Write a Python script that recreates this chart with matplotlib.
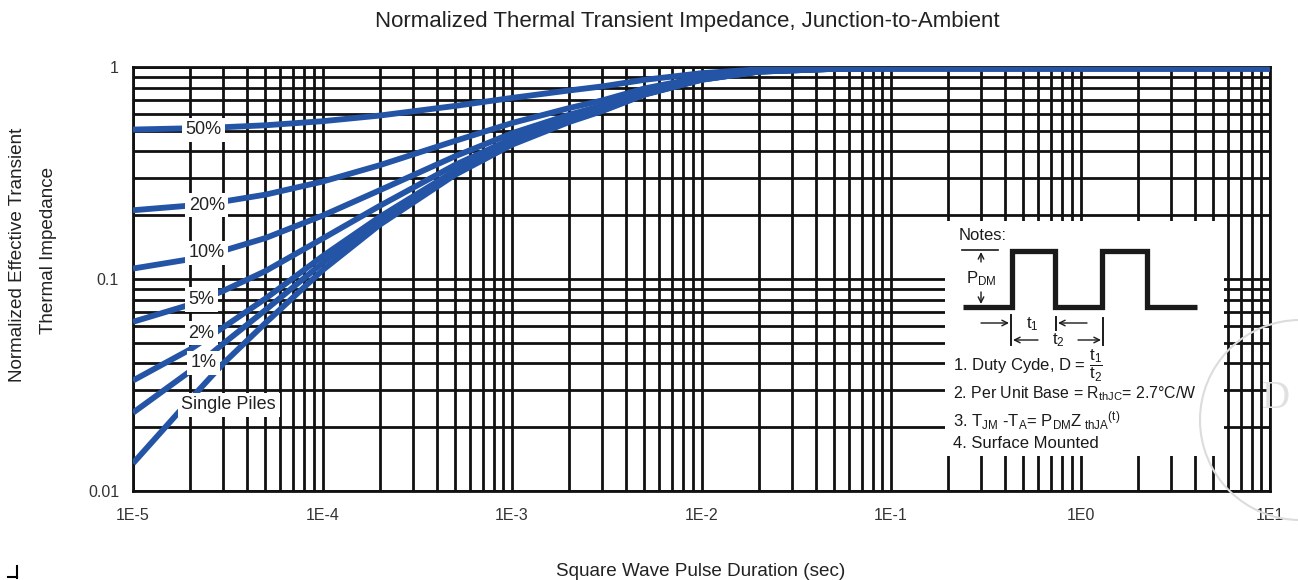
import numpy as np
import matplotlib
matplotlib.use('Agg')
import matplotlib.pyplot as plt
from matplotlib.ticker import LogLocator, NullFormatter, FixedLocator, FixedFormatter
from matplotlib.patches import Ellipse

plt.rcParams['font.family'] = ['Liberation Sans', 'DejaVu Sans']
plt.rcParams['mathtext.fontset'] = 'custom'
plt.rcParams['mathtext.rm'] = 'Liberation Sans'
plt.rcParams['mathtext.it'] = 'Liberation Sans:italic'

# pulse duration (s)
t = [1e-5, 2e-5, 3e-5, 5e-5, 1e-4, 2e-4, 5e-4, 1e-3, 2e-3, 3e-3,
     5e-3, 1e-2, 2e-2, 5e-2, 1e-1, 1.0, 10.0]

# normalized transient impedance for each duty cycle
z_single = [0.0135, 0.027, 0.040, 0.062, 0.11, 0.18, 0.31, 0.43, 0.55, 0.62,
            0.74, 0.87, 0.95, 0.98, 0.985, 0.985, 0.985]
z_01 = [0.0234, 0.0367, 0.0496, 0.0714, 0.119, 0.188, 0.317, 0.436, 0.555, 0.624,
        0.743, 0.871, 0.951, 0.98, 0.985, 0.985, 0.985]
z_02 = [0.0332, 0.0465, 0.0592, 0.0808, 0.128, 0.196, 0.324, 0.441, 0.559, 0.628,
        0.745, 0.873, 0.951, 0.98, 0.985, 0.985, 0.985]
z_05 = [0.0628, 0.0757, 0.088, 0.109, 0.155, 0.221, 0.345, 0.459, 0.573, 0.639,
        0.753, 0.877, 0.953, 0.981, 0.985, 0.985, 0.985]
z_10 = [0.112, 0.124, 0.136, 0.156, 0.199, 0.262, 0.379, 0.487, 0.595, 0.658,
        0.766, 0.883, 0.955, 0.982, 0.985, 0.985, 0.985]
z_20 = [0.211, 0.222, 0.232, 0.250, 0.288, 0.344, 0.448, 0.544, 0.64, 0.696,
        0.792, 0.896, 0.96, 0.984, 0.985, 0.985, 0.985]
z_50 = [0.507, 0.514, 0.52, 0.531, 0.555, 0.59, 0.655, 0.715, 0.775, 0.81,
        0.87, 0.935, 0.975, 0.985, 0.985, 0.985, 0.985]

curves = [z_50, z_20, z_10, z_05, z_02, z_01, z_single]
curve_labels = ['50%', '20%', '10%', '5%', '2%', '1%', 'Single Piles']
# where each curve name sits
label_pos = [(2.35e-5, 0.505), (2.45e-5, 0.223), (2.45e-5, 0.133), (2.3e-5, 0.080),
             (2.3e-5, 0.0555), (2.35e-5, 0.0402), (3.2e-5, 0.0255)]

xticks = [1e-5, 1e-4, 1e-3, 1e-2, 1e-1, 1, 10]
xtick_labels = ['1E-5', '1E-4', '1E-3', '1E-2', '1E-1', '1E0', '1E1']
yticks = [0.01, 0.1, 1]
ytick_labels = ['0.01', '0.1', '1']

blue = '#2354a6'
ink = '#1a1a1a'

W, H = 1298, 580
fig = plt.figure(figsize=(W / 100, H / 100), dpi=100)
L, R, T, B = 133, 1270, 67, 491
ax = fig.add_axes([L / W, 1 - B / H, (R - L) / W, (B - T) / H])
ax.set_xscale('log')
ax.set_yscale('log')
ax.set_xlim(1e-5, 10)
ax.set_ylim(0.01, 1)

ax.xaxis.set_minor_locator(LogLocator(base=10, subs=np.arange(2, 10)))
ax.yaxis.set_minor_locator(LogLocator(base=10, subs=np.arange(2, 10)))
ax.xaxis.set_minor_formatter(NullFormatter())
ax.yaxis.set_minor_formatter(NullFormatter())
ax.xaxis.set_major_locator(FixedLocator(xticks))
ax.xaxis.set_major_formatter(FixedFormatter(xtick_labels))
ax.yaxis.set_major_locator(FixedLocator(yticks))
ax.yaxis.set_major_formatter(FixedFormatter(ytick_labels))
ax.tick_params(which='both', length=0, labelsize=11.5, colors='#333333', pad=10)
ax.tick_params(axis='x', pad=12)
ax.grid(which='both', color='#111111', lw=2.0)
ax.set_axisbelow(True)
for s in ax.spines.values():
    s.set_linewidth(2)
    s.set_color('#111111')

for z in curves:
    ax.plot(t, z, color=blue, lw=4.2, solid_capstyle='butt', zorder=3)

for (lx, ly), txt in zip(label_pos, curve_labels):
    ax.text(lx, ly, txt, ha='center', va='center', fontsize=13, color='#222222', zorder=5,
            bbox=dict(boxstyle='square,pad=0.2', fc='white', ec='none'))

fig.text(687 / W, 1 - 22 / H, 'Normalized Thermal Transient Impedance, Junction-to-Ambient',
         ha='center', va='center', fontsize=16, color='#222222')
fig.text(701 / W, 1 - 572 / H, 'Square Wave Pulse Duration (sec)',
         ha='center', va='center', fontsize=13.6, color='#222222')
fig.text(18 / W, 1 - 255 / H, 'Normalized Effective Transient', rotation=90,
         ha='center', va='center', fontsize=13.6, color='#222222')
fig.text(49 / W, 1 - 250 / H, 'Thermal Impedance', rotation=90,
         ha='center', va='center', fontsize=13.6, color='#222222')

# notes panel, laid out in pixel units
nl, nr, nt, nb = 945, 1224, 221, 456
nx = fig.add_axes([nl / W, 1 - nb / H, (nr - nl) / W, (nb - nt) / H])
nx.set_xlim(nl, nr)
nx.set_ylim(nb, nt)
nx.set_xticks([])
nx.set_yticks([])
for s in nx.spines.values():
    s.set_visible(False)
nx.set_facecolor('white')

fs = 12
nx.text(959, 236, 'Notes:', fontsize=fs, va='center', ha='left', color=ink)
# pulse train
px = [963, 1012, 1012, 1055, 1055, 1102, 1102, 1147, 1147, 1197]
py = [307, 307, 251, 251, 307, 307, 251, 251, 307, 307]
nx.plot(px, py, color=ink, lw=3.8, solid_joinstyle='miter', solid_capstyle='butt')
nx.plot([962, 998], [250, 250], color=ink, lw=1.2)
nx.annotate('', xy=(981, 252), xytext=(981, 262),
            arrowprops=dict(arrowstyle='->', lw=1, color=ink, shrinkA=0, shrinkB=0))
nx.annotate('', xy=(981, 304), xytext=(981, 292),
            arrowprops=dict(arrowstyle='->', lw=1, color=ink, shrinkA=0, shrinkB=0))
nx.text(966, 279, r'P$_{\mathrm{DM}}$', fontsize=fs, va='center', ha='left', color=ink)

# t1 / t2 markers
for bx, y0, y1 in [(1011, 315, 345), (1056, 317, 330), (1103, 318, 345)]:
    nx.plot([bx, bx], [y0, y1], color=ink, lw=1.4)
arrow = dict(arrowstyle='->', lw=1, color=ink, shrinkA=0, shrinkB=0)
nx.annotate('', xy=(1009, 323), xytext=(981, 323), arrowprops=arrow)
nx.annotate('', xy=(1058, 323), xytext=(1087, 323), arrowprops=arrow)
nx.annotate('', xy=(1013, 340), xytext=(1038, 340), arrowprops=arrow)
nx.annotate('', xy=(1101, 340), xytext=(1078, 340), arrowprops=arrow)
nx.text(1032, 324, r't$_{\mathrm{1}}$', fontsize=fs, va='center', ha='center', color=ink)
nx.text(1058, 340, r't$_{\mathrm{2}}$', fontsize=fs, va='center', ha='center', color=ink)

nx.text(953, 366, r'1. Duty Cyde, D = $\dfrac{\mathrm{t_1}}{\mathrm{t_2}}$', fontsize=fs,
        va='center', ha='left', color=ink)
nx.text(953, 394, r'2. Per Unit Base = R$_{\mathrm{thJC}}$= 2.7°C/W', fontsize=11.4,
        va='center', ha='left', color=ink)
nx.text(953, 421, r'3. T$_{\mathrm{JM}}$ -T$_{\mathrm{A}}$= P$_{\mathrm{DM}}$Z$_{\mathrm{\ thJA}}$$^{\mathrm{(t)}}$',
        fontsize=fs, va='center', ha='left', color=ink)
nx.text(953, 444, '4. Surface Mounted', fontsize=fs, va='center', ha='left', color=ink)

# faint stamp at the right edge
r = 100
stamp = Ellipse((1300 / W, 1 - 420 / H), 2 * r / W, 2 * r / H, transform=fig.transFigure,
                fill=False, ec='#dcdcdc', lw=1.5, zorder=10)
fig.patches.append(stamp)
fig.text(1276 / W, 1 - 398 / H, 'D', fontsize=28, color='#e0e0e0', ha='center', va='center',
         family='Liberation Serif', zorder=10)

# small corner mark
fig.add_artist(plt.Line2D([17 / W, 17 / W], [1 - 566 / H, 1 - 578 / H], color='black', lw=1.5))
fig.add_artist(plt.Line2D([8 / W, 17 / W], [1 - 577 / H, 1 - 577 / H], color='black', lw=1.5))

fig.savefig('out.png', dpi=100, facecolor='white')
